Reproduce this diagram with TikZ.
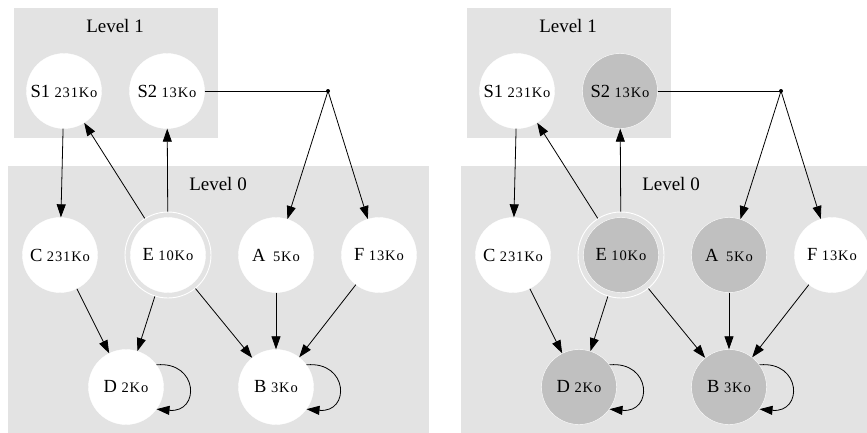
\documentclass[tikz,border=0pt]{standalone}
\usepackage{fontspec}
\setmainfont{Liberation Serif}
\usetikzlibrary{arrows.meta}
\definecolor{boxgrey}{HTML}{E3E3E3}
\definecolor{nodegrey}{HTML}{C0C0C0}
\newcommand\nlbl[2]{{\fontsize{18.5}{18.5}\selectfont #1}\hspace{4.5pt}{\fontsize{14.5}{14.5}\selectfont\addfontfeature{LetterSpace=6}#2}}
\newcommand\levtxt[1]{{\fontsize{19}{19}\selectfont #1}}
\tikzset{
  levelbox/.style={fill=boxgrey, draw=none},
  vtx/.style={circle, minimum size=75pt, inner sep=0pt, draw=white, line width=0.4pt, fill=#1},
  ring/.style={circle, minimum size=86pt, inner sep=0pt, draw=white, line width=0.9pt},
  junction/.style={circle, fill=black, minimum size=4pt, inner sep=0pt},
  edge/.style={draw=black, line width=0.8pt, -{Triangle[length=13pt,width=9pt]}},
  plain/.style={draw=black, line width=0.8pt},
}
\newcommand\panel[7]{%
\begin{scope}[xshift=#2]
  \fill[levelbox] (14,8) rectangle (218,138);
  \fill[levelbox] (8,166) rectangle (429,440);
  \node (#1L1) at (115,26) {\levtxt{Level 1}};
  \node (#1L0) at (218,184) {\levtxt{Level 0}};
  \node[vtx=white] (#1S1) at (64,91) {\nlbl{S1}{231Ko}};
  \node[vtx=#3] (#1S2) at (167,91) {\nlbl{S2}{13Ko}};
  \node[junction] (#1dot) at (328,91) {};
  \node[vtx=white] (#1C) at (60,255) {\nlbl{C}{231Ko}};
  \node[ring] (#1E) at (168,255) {};
  \node[vtx=#4] (#1Ei) at (168,255) {\nlbl{E}{10Ko}};
  \node[vtx=#5] (#1A) at (276,255) {\nlbl{A}{\hspace{3pt}5Ko}};
  \node[vtx=white] (#1F) at (379,255) {\nlbl{F}{13Ko}};
  \node[vtx=#6] (#1D) at (126,387) {\nlbl{D}{2Ko}};
  \node[vtx=#7] (#1B) at (276,387) {\nlbl{B}{3Ko}};
  \draw[edge] (#1S1) -- (#1C);
  \draw[edge] (#1E) -- (#1S1);
  \draw[edge] (#1E) -- (#1S2);
  \draw[plain] (#1S2) -- (#1dot.center);
  \draw[edge] (#1dot.center) -- (#1A);
  \draw[edge] (#1dot.center) -- (#1F);
  \draw[edge] (#1C) -- (#1D);
  \draw[edge] (#1E) -- (#1D);
  \draw[edge] (#1E) -- (#1B);
  \draw[edge] (#1A) -- (#1B);
  \draw[edge] (#1F) -- (#1B);
  \draw[edge] (#1D.36) .. controls +(42,-4) and +(44,4) .. (#1D.-36);
  \draw[edge] (#1B.36) .. controls +(42,-4) and +(44,4) .. (#1B.-36);
\end{scope}}
\begin{document}
\begin{tikzpicture}[x=1pt,y=-1pt]
  \clip (0,0) rectangle (867,432);
  \fill[white] (0,0) rectangle (867,432);
  \panel{l}{0pt}{white}{white}{white}{white}{white}
  \panel{r}{453pt}{nodegrey}{nodegrey}{nodegrey}{nodegrey}{nodegrey}
\end{tikzpicture}
\end{document}
